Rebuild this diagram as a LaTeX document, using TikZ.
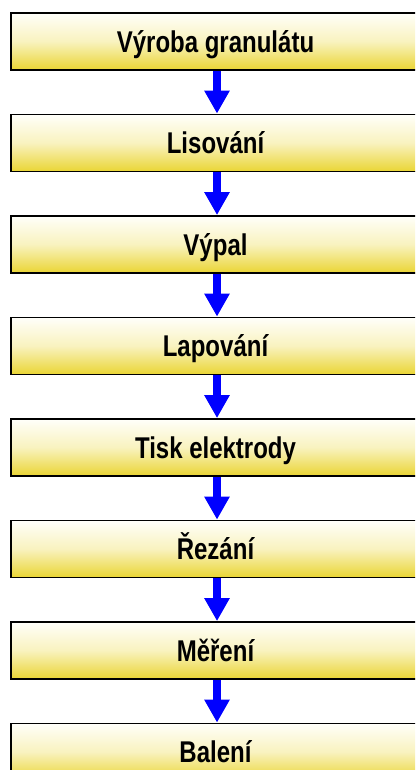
\documentclass[tikz,border=0pt]{standalone}
\usepackage{fontspec}
\setmainfont{Liberation Sans}
\newfontfamily\narrowfont{Liberation Sans}[FakeStretch=0.8]
\usepackage{tikz}
\usetikzlibrary{arrows.meta, positioning}
\definecolor{boxyellow}{RGB}{234,213,52}
\definecolor{boxtop}{RGB}{255,255,250}
\definecolor{flowblue}{RGB}{0,0,255}
\tikzset{
  stepbox/.style={
    rectangle, draw=black, line width=1.8pt,
    top color=boxtop, bottom color=boxyellow, middle color=boxtop!70!boxyellow,
    minimum width=409pt, minimum height=57pt,
    text centered, font=\narrowfont\fontsize{30}{34}\selectfont\bfseries,
    text height=21.5pt, text depth=0pt,
    inner sep=0pt
  },
  flowarrow/.style={-{Triangle[width=24pt, length=23pt]}, line width=8pt, color=flowblue}
}
\begin{document}
\begin{tikzpicture}[node distance=42.7pt]

  \useasboundingbox (0pt,0pt) rectangle (415pt,-770pt);
  \clip (0pt,0pt) rectangle (415pt,-770pt);

  % Process steps
  \node[stepbox] (granulat) at (215.5pt,-41.5pt) {Výroba granulátu};
  \node[stepbox, below=of granulat] (lisovani) {Lisování};
  \node[stepbox, below=of lisovani] (vypal) {Výpal};
  \node[stepbox, below=of vypal] (lapovani) {Lapování};
  \node[stepbox, below=of lapovani] (tisk) {Tisk elektrody};
  \node[stepbox, below=of tisk] (rezani) {Řezání};
  \node[stepbox, below=of rezani] (mereni) {Měření};
  \node[stepbox, below=of mereni] (baleni) {Balení};

  % Arrows
  \draw[flowarrow] ([xshift=1.5pt]granulat.south) -- ([xshift=1.5pt]lisovani.north);
  \draw[flowarrow] ([xshift=1.5pt]lisovani.south) -- ([xshift=1.5pt]vypal.north);
  \draw[flowarrow] ([xshift=1.5pt]vypal.south) -- ([xshift=1.5pt]lapovani.north);
  \draw[flowarrow] ([xshift=1.5pt]lapovani.south) -- ([xshift=1.5pt]tisk.north);
  \draw[flowarrow] ([xshift=1.5pt]tisk.south) -- ([xshift=1.5pt]rezani.north);
  \draw[flowarrow] ([xshift=1.5pt]rezani.south) -- ([xshift=1.5pt]mereni.north);
  \draw[flowarrow] ([xshift=1.5pt]mereni.south) -- ([xshift=1.5pt]baleni.north);

\end{tikzpicture}
\end{document}
